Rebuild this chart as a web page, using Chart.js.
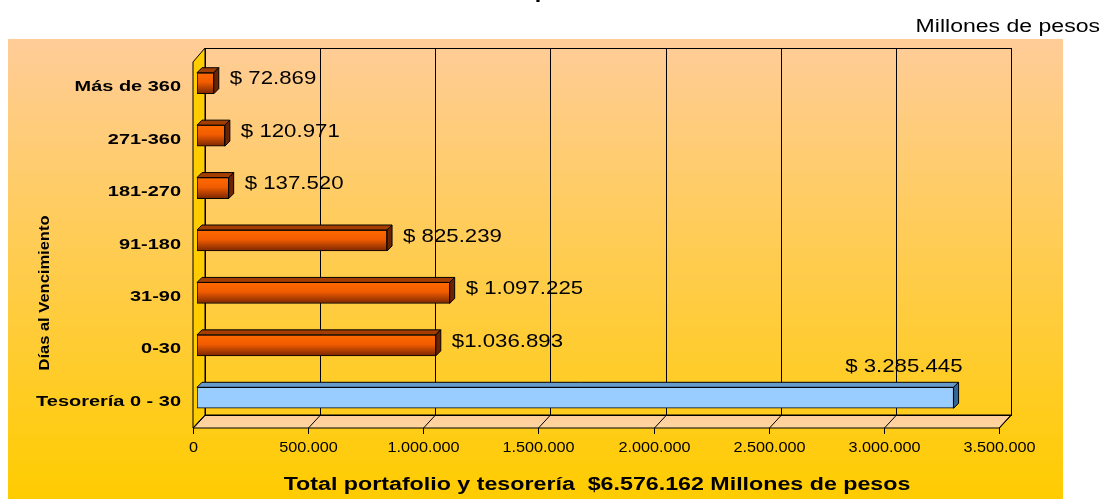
<!DOCTYPE html>
<html>
<head>
<meta charset="utf-8">
<script src="https://cdn.jsdelivr.net/npm/chart.js@4.4.1/dist/chart.umd.min.js"></script>
<style>
  html, body { margin: 0; padding: 0; background: #fff; }
  #grafico { display: block; }
</style>
</head>
<body>
<canvas id="grafico" width="1110" height="499"></canvas>
<script>
// datos
const categorias = ['Más de 360', '271-360', '181-270', '91-180', '31-90', '0-30', 'Tesorería 0 - 30'];
const valores = [72869, 120971, 137520, 825239, 1097225, 1036893, 3285445];
const etiquetas = ['$ 72.869', '$ 120.971', '$ 137.520', '$ 825.239', '$ 1.097.225', '$1.036.893', '$ 3.285.445'];
const ticksX = [0, 500000, 1000000, 1500000, 2000000, 2500000, 3000000, 3500000];

const FUENTE = "'Liberation Sans', Arial, sans-serif";
const PROF = 5; // profundidad de las barras

const fmt = v => String(v).replace(/\B(?=(\d{3})+(?!\d))/g, '.');
const total = valores.reduce((s, v) => s + v, 0);

// texto con escala horizontal (el original esta algo estirado)
let texto = (ctx, str, x, y, o) => {
  ctx.save();
  ctx.font = o.font;
  ctx.fillStyle = o.color || '#000';
  ctx.textBaseline = 'middle';
  ctx.textAlign = o.align || 'left';
  ctx.translate(x, y);
  if (o.rot) ctx.rotate(o.rot);
  ctx.scale(o.sx || 1, 1);
  ctx.fillText(str, 0, 0);
  ctx.restore();
};

const anchoTexto = (ctx, str, font, sx) => {
  ctx.save();
  ctx.font = font;
  const w = ctx.measureText(str).width * sx;
  ctx.restore();
  return w;
};

const esTesoreria = i => categorias[i].startsWith('Tesorería');

const marco3d = {
  id: 'marco3d',
  beforeDraw(chart) {
    const ctx = chart.ctx, a = chart.chartArea, sx = chart.scales.x, sy = chart.scales.y;

    // fondo
    ctx.save();
    ctx.fillStyle = '#fff';
    ctx.fillRect(0, 0, chart.width, chart.height);
    const g = ctx.createLinearGradient(0, 39, 0, 499);
    g.addColorStop(0, '#FFCC99');
    g.addColorStop(1, '#FFCC00');
    ctx.fillStyle = g;
    ctx.fillRect(8, 39, 1055, 460);

    // pared del fondo, piso y pared lateral
    const bL = a.left + 8, bR = a.right + 8, bT = a.top - 9, bB = a.bottom - 9;
    const fL = a.left - 4, fR = a.right - 4, fB = a.bottom + 4;

    ctx.lineWidth = 1;
    ctx.strokeStyle = '#000';

    ctx.beginPath();
    ctx.moveTo(fL, bT + 14);
    ctx.lineTo(bL, bT);
    ctx.lineTo(bL, bB);
    ctx.lineTo(fL, fB);
    ctx.closePath();
    ctx.fillStyle = '#FFCC00';
    ctx.fill();
    ctx.stroke();

    ctx.beginPath();
    ctx.moveTo(bL, bB);
    ctx.lineTo(bR, bB);
    ctx.lineTo(fR, fB);
    ctx.lineTo(fL, fB);
    ctx.closePath();
    const gp = ctx.createLinearGradient(0, bB, 0, fB);
    gp.addColorStop(0, '#FFCC99');
    gp.addColorStop(1, '#FFD6A0');
    ctx.fillStyle = gp;
    ctx.fill();
    ctx.stroke();

    ctx.strokeRect(bL + 0.5, bT + 0.5, bR - bL, bB - bT);

    ticksX.forEach(v => {
      const px = Math.round(sx.getPixelForValue(v)) + 0.5;
      ctx.beginPath();
      ctx.moveTo(px + 8, bT);
      ctx.lineTo(px + 8, bB);
      ctx.lineTo(px - 4, fB);
      ctx.lineTo(px - 4, fB + 6);
      ctx.stroke();
      texto(ctx, fmt(v), px - 4, 448, { font: '14px ' + FUENTE, align: 'center', sx: 1.16 });
    });
    ctx.restore();

    // etiquetas de categorias
    categorias.forEach((c, i) => {
      texto(ctx, c, a.left - 16, sy.getPixelForValue(i) + 4, { font: 'bold 15px ' + FUENTE, align: 'right', sx: 1.33 });
    });

    // titulos
    texto(ctx, 'Vencimiento del portafolio de renta', 545, -7, { font: 'bold 18px ' + FUENTE, align: 'center', sx: 1.29 });
    texto(ctx, 'Millones de pesos', 1100, 27, { font: '18px ' + FUENTE, align: 'right', sx: 1.28 });
    texto(ctx, 'Días al Vencimiento', 45, 293, { font: 'bold 15px ' + FUENTE, align: 'center', sx: 1.1, rot: -Math.PI / 2 });
    texto(ctx, 'Total portafolio y tesorería  $' + fmt(total) + ' Millones de pesos', 597, 485,
      { font: 'bold 18px ' + FUENTE, align: 'center', sx: 1.29 });
  },
  afterDatasetsDraw(chart) {
    const ctx = chart.ctx, a = chart.chartArea;
    const meta = chart.getDatasetMeta(0);
    ctx.save();
    ctx.lineWidth = 1;
    ctx.strokeStyle = '#000';
    meta.data.forEach((bar, i) => {
      const top = bar.y - bar.height / 2, bot = bar.y + bar.height / 2;
      const l = bar.base, r = bar.x;
      const azul = esTesoreria(i);

      ctx.beginPath();
      ctx.moveTo(l, top);
      ctx.lineTo(l + PROF, top - PROF);
      ctx.lineTo(r + PROF, top - PROF);
      ctx.lineTo(r, top);
      ctx.closePath();
      ctx.fillStyle = azul ? '#6699CC' : '#A33D00';
      ctx.fill();
      ctx.stroke();

      ctx.beginPath();
      ctx.moveTo(r, top);
      ctx.lineTo(r + PROF, top - PROF);
      ctx.lineTo(r + PROF, bot - PROF);
      ctx.lineTo(r, bot);
      ctx.closePath();
      ctx.fillStyle = azul ? '#336699' : '#6B2400';
      ctx.fill();
      ctx.stroke();

      const fuente = '19px ' + FUENTE;
      const w = anchoTexto(ctx, etiquetas[i], fuente, 1.17);
      if (r + 16 + w < a.right) {
        texto(ctx, etiquetas[i], r + 16, bar.y - 4, { font: fuente, align: 'left', sx: 1.17 });
      } else {
        texto(ctx, etiquetas[i], r + 9, bar.y - 31, { font: fuente, align: 'right', sx: 1.17 });
      }
    });
    ctx.restore();
  }
};

const colorFrente = (c) => {
  if (esTesoreria(c.dataIndex)) return '#99CCFF';
  const chart = c.chart;
  if (!chart.chartArea || !chart.scales.y) return '#FF6600';
  const y = chart.scales.y.getPixelForValue(c.dataIndex);
  const g = chart.ctx.createLinearGradient(0, y - 10.5, 0, y + 10.5);
  g.addColorStop(0, '#FF6A00');
  g.addColorStop(0.45, '#F25C00');
  g.addColorStop(1, '#7A2600');
  return g;
};

const grafico = new Chart(document.getElementById('grafico'), {
  type: 'bar',
  data: {
    labels: categorias,
    datasets: [{
      data: valores,
      backgroundColor: colorFrente,
      borderColor: '#000',
      borderWidth: 1,
      borderSkipped: false,
      barThickness: 21
    }]
  },
  options: {
    indexAxis: 'y',
    responsive: false,
    animation: false,
    layout: { padding: { top: 57, right: 107, bottom: 75, left: 197 } },
    plugins: { legend: { display: false }, tooltip: { enabled: false } },
    scales: {
      x: { display: false, min: 0, max: 3500000 },
      y: { display: false }
    }
  },
  plugins: [marco3d]
});
</script>
</body>
</html>
